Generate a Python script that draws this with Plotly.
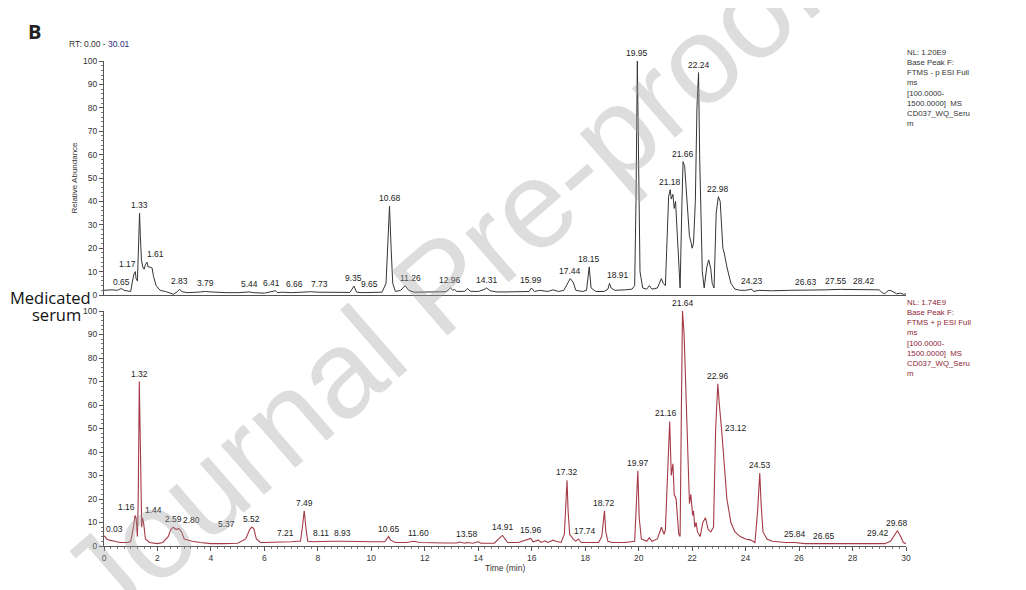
import plotly.graph_objects as go

# ---------------- data ----------------
top_time = [0.0, 0.3, 0.5, 0.65, 0.75, 0.9, 1.0, 1.05, 1.12, 1.17, 1.2, 1.25, 1.3, 1.33, 1.36, 1.4, 1.45, 1.5,
            1.55, 1.61, 1.65, 1.7, 1.8, 1.85, 1.95, 2.1, 2.3, 2.5, 2.6, 2.75, 2.83, 2.9, 3.1, 3.5, 3.79, 4.0,
            4.3, 4.6, 5.0, 5.44, 5.6, 6.0, 6.41, 6.5, 6.66, 7.0, 7.4, 7.73, 8.0, 8.5, 9.0, 9.2, 9.35, 9.45,
            9.65, 10.0, 10.4, 10.55, 10.62, 10.68, 10.74, 10.8, 10.9, 11.1, 11.26, 11.4, 11.6, 12.0, 12.5,
            12.8, 12.96, 13.05, 13.1, 13.2, 13.5, 13.6, 13.7, 14.0, 14.25, 14.31, 14.45, 14.7, 15.0, 15.5,
            15.9, 15.99, 16.1, 16.3, 16.6, 16.8, 17.0, 17.2, 17.35, 17.44, 17.55, 17.65, 17.9, 18.05, 18.15,
            18.22, 18.4, 18.7, 18.85, 18.91, 18.97, 19.1, 19.5, 19.75, 19.85, 19.9, 19.95, 20.0, 20.05,
            20.15, 20.3, 20.4, 20.5, 20.7, 20.85, 20.92, 21.0, 21.05, 21.12, 21.18, 21.22, 21.28, 21.33,
            21.38, 21.45, 21.52, 21.55, 21.62, 21.66, 21.72, 21.8, 21.9, 21.95, 22.0, 22.05, 22.12, 22.18,
            22.24, 22.28, 22.33, 22.38, 22.45, 22.55, 22.62, 22.7, 22.75, 22.82, 22.9, 22.98, 23.05, 23.1,
            23.15, 23.2, 23.3, 23.45, 23.6, 23.8, 24.0, 24.23, 24.3, 24.5, 25.0, 25.63, 26.0, 26.5, 27.0,
            27.55, 28.0, 28.42, 28.8, 29.0, 29.1, 29.2, 29.35, 29.45, 29.55, 29.65, 29.8, 29.9, 30.0]
top_abund = [2.0, 2.2, 2.0, 2.8, 2.0, 1.5, 1.5, 5, 9, 10, 7, 6, 20, 35, 25, 15, 12, 11,
             13, 14, 12, 12, 11.5, 8, 4, 2, 1.5, 0.5, 0.3, 1.5, 2.5, 1.5, 1.0, 1.2, 1.5, 1.3,
             1.0, 1.0, 1.0, 1.3, 1.0, 0.8, 1.8, 1.0, 1.2, 1.0, 1.2, 1.4, 1.2, 1.2, 1.1, 1.1, 3.8, 1.2,
             1.0, 1.0, 1.2, 5, 20, 38, 20, 5, 1.5, 2, 4, 2, 1.2, 1.2, 1.5,
             1.4, 3, 2, 2.4, 1.5, 1.6, 2.8, 1.6, 1.5, 2.5, 3.0, 1.8, 1.3, 1.3, 1.3,
             1.5, 3.0, 1.5, 2.0, 1.5, 2.2, 1.5, 2.0, 5.5, 7, 5.5, 2, 1.5, 2, 12,
             3, 1.5, 1.5, 2.5, 5, 3, 2.0, 2.2, 2.5, 4, 40, 100, 55, 10,
             3, 2.5, 4, 2.5, 3, 7, 5, 4, 20, 42, 45, 41, 43, 37,
             40, 25, 12, 3, 40, 57, 55, 42, 25, 23, 20, 22, 40, 80,
             95, 60, 35, 10, 3, 12, 15, 11, 5, 3, 35, 42, 40, 30,
             20, 18, 12, 5, 2.5, 2.0, 2.0, 2.5, 1.5, 2.0, 1.8, 2.0, 2.0, 2.0, 2.2,
             2.4, 2.3, 2.4, 2.3, 2.2, 1.0, 0.5, 2.0, 1.8, 1.2, 0.5, 0.8, 0.3, 0.5]

bot_time = [0.0, 0.03, 0.1, 0.2, 0.4, 0.6, 0.9, 1.0, 1.1, 1.16, 1.2, 1.25, 1.28, 1.32, 1.35, 1.38, 1.41,
            1.44, 1.48, 1.55, 1.7, 2.0, 2.2, 2.4, 2.5, 2.59, 2.7, 2.8, 2.9, 3.0, 3.3, 3.6, 4.0, 4.5, 5.0,
            5.3, 5.37, 5.45, 5.52, 5.6, 5.7, 5.85, 6.0, 6.5, 7.0, 7.21, 7.35, 7.42, 7.49, 7.55, 7.62, 7.8,
            8.11, 8.5, 8.93, 9.5, 10.0, 10.5, 10.6, 10.65, 10.72, 10.9, 11.3, 11.6, 11.8, 12.2, 12.8, 13.2,
            13.3, 13.5, 13.58, 13.8, 14.0, 14.1, 14.6, 14.85, 14.91, 15.0, 15.1, 15.5, 15.9, 15.96, 16.05,
            16.25, 16.35, 16.5, 16.6, 16.8, 16.9, 17.1, 17.22, 17.28, 17.32, 17.36, 17.42, 17.55, 17.65,
            17.74, 17.85, 18.0, 18.5, 18.62, 18.68, 18.72, 18.77, 18.85, 19.0, 19.5, 19.85, 19.92, 19.97,
            20.02, 20.1, 20.3, 20.4, 20.5, 20.7, 20.85, 20.95, 21.0, 21.08, 21.16, 21.22, 21.28, 21.33,
            21.4, 21.5, 21.55, 21.6, 21.64, 21.7, 21.78, 21.85, 21.9, 21.95, 22.02, 22.05, 22.1, 22.15,
            22.2, 22.3, 22.4, 22.5, 22.6, 22.7, 22.8, 22.88, 22.96, 23.02, 23.08, 23.12, 23.2, 23.3, 23.45,
            23.6, 23.8, 24.0, 24.2, 24.35, 24.45, 24.53, 24.58, 24.65, 24.8, 25.0, 25.5, 25.84, 26.2,
            26.65, 27.5, 28.5, 29.0, 29.2, 29.42, 29.55, 29.68, 29.8, 29.9, 30.0]
bot_abund = [4, 4.2, 3, 2.5, 2, 1.5, 1.5, 2, 8, 13, 12, 4, 20, 70, 50, 20, 8,
             12, 10, 3, 1.5, 1.0, 1.5, 4, 7, 8, 7, 7.5, 6, 3, 2, 1.5, 1.0, 1.0, 1.2,
             3, 5, 7, 8, 7.5, 3, 1.5, 1.5, 1.5, 1.8, 2, 2, 8, 15, 8, 2, 1.8,
             2, 2, 2, 1.8, 1.8, 1.8, 3.5, 4, 2.5, 1.5, 1.5, 2, 1.5, 1.3, 1.3, 1.3,
             1.7, 1.2, 1.5, 1.2, 1.8, 1.2, 1.2, 4, 4.5, 3, 1.5, 1.5, 3, 3.2, 1.8,
             2.5, 1.5, 2.2, 1.5, 2.5, 2.0, 1.5, 5, 20, 28, 15, 5, 3, 2,
             3, 1.5, 1.5, 1.5, 4, 12, 15, 6, 2, 1.5, 1.5, 2, 20, 32,
             12, 3, 2, 3.5, 2, 3, 8, 5, 7, 30, 53, 30, 35, 22,
             20, 5, 4, 60, 100, 90, 60, 30, 18, 22, 13, 15, 8, 10,
             6, 4, 10, 12, 7, 6, 8, 50, 69, 60, 50, 47, 35, 20, 10,
             6, 4, 3, 2.5, 1.5, 15, 31, 18, 6, 3, 2, 1.5, 1.5, 1.0,
             1.0, 0.8, 0.8, 1.0, 1.0, 2, 4, 6.5, 4, 1.5, 1.0]

top_labels = ["0.65", "1.17", "1.33", "1.61", "2.83", "3.79", "5.44", "6.41", "6.66", "7.73", "9.35", "9.65",
              "10.68", "11.26", "12.96", "14.31", "15.99", "17.44", "18.15", "18.91", "19.95", "21.18",
              "21.66", "22.24", "22.98", "24.23", "26.63", "27.55", "28.42"]
top_label_height = [2, 10, 35, 14, 2.5, 1.5, 1.3, 1.8, 1.2, 1.4, 3.8, 1.2,
                    38, 4, 3, 3, 3, 7, 12, 5, 100, 45,
                    57, 95, 42, 2.5, 2, 2.4, 2.4]

bot_labels = ["0.03", "1.16", "1.32", "1.44", "2.59", "2.80", "5.37", "5.52", "7.21", "7.49", "8.11", "8.93",
              "10.65", "11.60", "13.58", "14.91", "15.96", "17.32", "17.74", "18.72", "19.97", "21.16",
              "21.64", "22.96", "23.12", "24.53", "25.84", "26.65", "29.42", "29.68"]
bot_label_height = [4, 13, 70, 12, 8, 7.5, 6, 8, 2, 15, 2, 2,
                    4, 2, 1.5, 4.5, 3.2, 28, 3, 15, 32, 53,
                    100, 69, 47, 31, 1.5, 1.0, 2, 6.5]

y_ticks = [0, 10, 20, 30, 40, 50, 60, 70, 80, 90, 100]
x_ticks = list(range(0, 31, 2))

top_info = ["NL: 1.20E9", "Base Peak F:", "FTMS - p ESI Full", "ms", "[100.0000-", "1500.0000]  MS",
            "CD037_WQ_Seru", "m"]
bot_info = ["NL: 1.74E9", "Base Peak F:", "FTMS + p ESI Full", "ms", "[100.0000-", "1500.0000]  MS",
            "CD037_WQ_Seru", "m"]

# label horizontal nudges (pixels) to avoid collisions, as in the original software output
top_label_nudge = {"1.17": -8, "1.61": 8, "6.41": -4, "6.66": 12, "7.73": 9, "9.65": 8, "11.26": 5,
                   "18.91": 8, "26.63": -10, "27.55": -5}
bot_label_nudge = {"0.03": 10, "1.16": -9, "1.44": 11, "2.80": 13, "5.37": -21, "7.21": -11,
                   "11.60": 4, "17.74": 7, "21.16": -4, "23.12": 14, "26.65": 8, "29.42": -12}

# ---------------- layout helpers ----------------
OFF = 8  # page body margin in the browser
W, H = 1026, 590
L, R, T, B = 104 - OFF, 120 + OFF, 61 - OFF, 44 + OFF
PW, PH = W - L - R, H - T - B


def px(xs):  # screen x -> paper
    return (xs - OFF - L) / PW


def py(ys):  # screen y -> paper
    return (H - B - (ys - OFF)) / PH


TOP_COL = "#353535"
BOT_COL = "#a53a46"
FONT = "Liberation Sans, Arial, sans-serif"

fig = go.Figure()
fig.add_trace(go.Scatter(x=top_time, y=top_abund, mode="lines", line=dict(color=TOP_COL, width=1),
                         xaxis="x", yaxis="y", hoverinfo="skip", showlegend=False))
fig.add_trace(go.Scatter(x=bot_time, y=bot_abund, mode="lines", line=dict(color=BOT_COL, width=1.1),
                         xaxis="x2", yaxis="y2", hoverinfo="skip", showlegend=False))

ann = []
for lab, h in zip(top_labels, top_label_height):
    ann.append(dict(x=float(lab), y=h, xref="x", yref="y", text=lab, showarrow=False,
                    yanchor="bottom", yshift=1, xshift=top_label_nudge.get(lab, 0),
                    font=dict(size=8.5, color="#222", family=FONT)))
for lab, h in zip(bot_labels, bot_label_height):
    ann.append(dict(x=float(lab), y=h, xref="x2", yref="y2", text=lab, showarrow=False,
                    yanchor="bottom", yshift=1, xshift=bot_label_nudge.get(lab, 0),
                    font=dict(size=8.5, color="#222", family=FONT)))

ann.append(dict(x=px(905), y=py(46), xref="paper", yref="paper", text="<br>".join(top_info),
                showarrow=False, xanchor="left", yanchor="top", align="left",
                font=dict(size=7.8, color="#333", family=FONT)))
ann.append(dict(x=px(905), y=py(296), xref="paper", yref="paper", text="<br>".join(bot_info),
                showarrow=False, xanchor="left", yanchor="top", align="left",
                font=dict(size=7.8, color="#8e2433", family=FONT)))

ann.append(dict(x=px(26), y=py(31), xref="paper", yref="paper", text="<b>B</b>", showarrow=False,
                xanchor="left", yanchor="middle", font=dict(size=20, color="#222", family="Open Sans")))
ann.append(dict(x=px(67), y=py(44), xref="paper", yref="paper",
                text="RT: 0.00 - <span style='color:#2a2a80'>30.01</span>", showarrow=False,
                xanchor="left", yanchor="middle", font=dict(size=8.5, color="#333", family=FONT)))
ann.append(dict(x=px(8), y=py(297), xref="paper", yref="paper", text="Medicated", showarrow=False,
                xanchor="left", yanchor="middle", font=dict(size=16.5, color="#111", family="Open Sans")))
ann.append(dict(x=px(30), y=py(314), xref="paper", yref="paper", text="serum", showarrow=False,
                xanchor="left", yanchor="middle", font=dict(size=16.5, color="#111", family="Open Sans")))
ann.append(dict(x=px(505), y=py(568), xref="paper", yref="paper", text="Time (min)", showarrow=False,
                xanchor="center", yanchor="middle", font=dict(size=8.5, color="#333", family=FONT)))

# watermark
ann.append(dict(x=px(440), y=py(285), xref="paper", yref="paper", text="Journal Pre-proof",
                showarrow=False, textangle=-41, xanchor="center", yanchor="middle",
                font=dict(size=124, color="rgba(160,160,160,0.36)", family=FONT)))

axis_common = dict(showgrid=False, zeroline=False, showline=True, linecolor="#555", linewidth=1,
                   tickfont=dict(size=8.5, color="#333", family=FONT))

fig.update_layout(
    width=W, height=H, paper_bgcolor="white", plot_bgcolor="white",
    margin=dict(l=L, r=R, t=T, b=B),
    xaxis=dict(domain=[0, 1], anchor="y", range=[0, 30], showticklabels=False, ticks="",
               **axis_common),
    yaxis=dict(domain=[py(295), 1], anchor="x", range=[0, 100], tickvals=y_ticks, ticks="outside",
               ticklen=4, tickcolor="#555",
               minor=dict(ticks="outside", ticklen=2, dtick=2, tickcolor="#777"),
               title=dict(text="Relative Abundance", font=dict(size=8, color="#333", family=FONT),
                          standoff=4),
               **axis_common),
    xaxis2=dict(domain=[0, 1], anchor="y2", range=[0, 30], tickvals=x_ticks, ticks="outside",
                ticklen=4, tickcolor="#555",
                minor=dict(ticks="outside", ticklen=2, dtick=0.25, tickcolor="#777"),
                **axis_common),
    yaxis2=dict(domain=[0, py(311)], anchor="x2", range=[0, 100], tickvals=y_ticks, ticks="outside",
                ticklen=4, tickcolor="#555",
                minor=dict(ticks="outside", ticklen=2, dtick=2, tickcolor="#777"),
                **axis_common),
    annotations=ann,
)

fig.write_html("out.html")
